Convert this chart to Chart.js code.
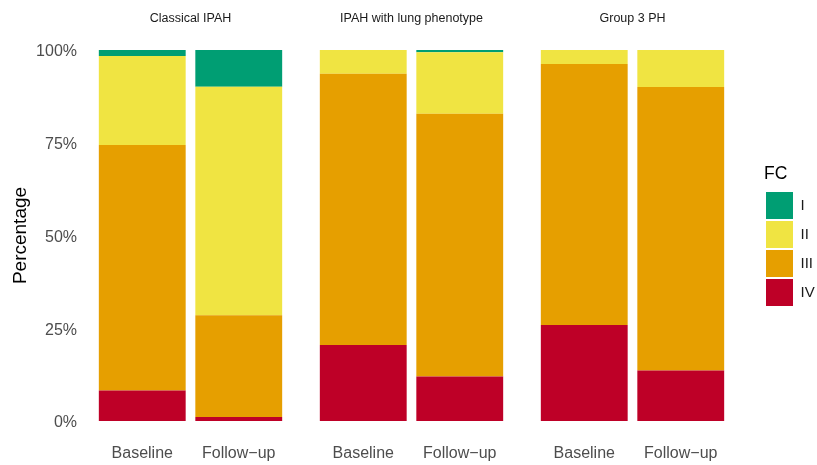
<!DOCTYPE html>
<html>
<head>
<meta charset="utf-8">
<script src="https://cdn.jsdelivr.net/npm/chart.js@4.4.1/dist/chart.umd.min.js"></script>
<style>
  html, body { margin: 0; padding: 0; background: #ffffff; width: 817px; height: 465px; overflow: hidden; position: relative; }
  canvas { position: absolute; top: 0; }
</style>
</head>
<body>
<canvas id="panel0" width="287" height="465" style="left:0px"></canvas>
<canvas id="panel1" width="193" height="465" style="left:315px"></canvas>
<canvas id="panel2" width="193" height="465" style="left:536px"></canvas>
<canvas id="legendCanvas" width="120" height="465" style="left:764px"></canvas>
<script>
// Facet titles and the two visits shown inside each facet
const panels = ['Classical IPAH', 'IPAH with lung phenotype', 'Group 3 PH'];
const visits = ['Baseline', 'Follow\u2212up'];

// Functional class names and fills
const fcLabels = ['I', 'II', 'III', 'IV'];
const fcColors = ['#009E73', '#F0E442', '#E69F00', '#BE0027'];

// Share of patients (%) per bar, ordered:
// Classical baseline, Classical follow-up, lung baseline, lung follow-up, G3 baseline, G3 follow-up
const fcI   = [1.6,  9.9,  0.0,  0.6,  0.0,  0.0];
const fcII  = [24.0, 61.6, 6.4,  16.6, 3.8,  10.0];
const fcIII = [66.2, 27.4, 73.1, 70.8, 70.3, 76.4];
const fcIV  = [8.2,  1.1,  20.5, 12.0, 25.9, 13.6];

// Percent axis ticks
const yTicks = [0, 25, 50, 75, 100];
const yTickLabels = ['0%', '25%', '50%', '75%', '100%'];

const FONT = "'Liberation Sans', Arial, Helvetica, sans-serif";
const fcValues = [fcI, fcII, fcIII, fcIV];

// Datasets are stacked bottom-up: IV first, I on top
function panelDatasets(p) {
  const ds = [];
  for (let k = fcLabels.length - 1; k >= 0; k--) {
    ds.push({
      label: fcLabels[k],
      data: p === null ? [] : fcValues[k].slice(2 * p, 2 * p + 2),
      backgroundColor: fcColors[k],
      borderWidth: 0,
      barPercentage: 0.9,
      categoryPercentage: 1.0
    });
  }
  return ds;
}

function panelChart(p) {
  const withAxis = p === 0;
  return new Chart(document.getElementById('panel' + p), {
    type: 'bar',
    data: { labels: visits, datasets: panelDatasets(p) },
    options: {
      responsive: false,
      animation: false,
      devicePixelRatio: 1,
      layout: { padding: 0 },
      plugins: {
        legend: { display: false },
        tooltip: { enabled: false },
        title: {
          display: true,
          text: panels[p],
          fullSize: false,
          color: '#1a1a1a',
          font: { family: FONT, size: 12.5, weight: 'normal', lineHeight: 1.2 },
          padding: { top: 11, bottom: 24 }
        }
      },
      scales: {
        x: {
          stacked: true,
          offset: true,
          // invisible tick marks push the visit labels down below the bars
          grid: { display: false, drawTicks: true, tickLength: 23 },
          border: { display: false },
          ticks: {
            color: '#4d4d4d',
            font: { family: FONT, size: 16 },
            padding: 0,
            maxRotation: 0,
            autoSkip: false
          },
          afterFit: (scale) => { scale.height = 44; }
        },
        y: {
          stacked: true,
          display: withAxis,
          min: 0,
          max: 100,
          grid: { display: false, drawTicks: false },
          border: { display: false },
          afterBuildTicks: (scale) => { scale.ticks = yTicks.map(v => ({ value: v })); },
          ticks: {
            color: '#4d4d4d',
            font: { family: FONT, size: 16 },
            padding: 17,
            labelOffset: 2,
            callback: (v) => yTickLabels[yTicks.indexOf(v)]
          },
          title: {
            display: withAxis,
            text: 'Percentage',
            color: '#000000',
            font: { family: FONT, size: 19, lineHeight: 1.2 },
            padding: { top: 9, bottom: 0 }
          },
          afterFit: (scale) => { if (withAxis) scale.width = 94; }
        }
      }
    }
  });
}

panels.forEach((_, p) => panelChart(p));

// Shared legend for the functional classes
new Chart(document.getElementById('legendCanvas'), {
  type: 'bar',
  data: { labels: [], datasets: panelDatasets(null) },
  options: {
    responsive: false,
    animation: false,
    devicePixelRatio: 1,
    layout: { padding: 0 },
    scales: { x: { display: false }, y: { display: false } },
    plugins: {
      tooltip: { enabled: false },
      legend: {
        display: true,
        position: 'left',
        align: 'start',
        reverse: true,
        title: {
          display: true,
          text: 'FC',
          position: 'start',
          color: '#000000',
          font: { family: FONT, size: 17.5, lineHeight: 1.2 },
          padding: { top: 165, bottom: 4 }
        },
        labels: {
          boxWidth: 27,
          boxHeight: 27,
          padding: 2,
          color: '#1a1a1a',
          font: { family: FONT, size: 15 }
        }
      }
    }
  }
});
</script>
</body>
</html>
